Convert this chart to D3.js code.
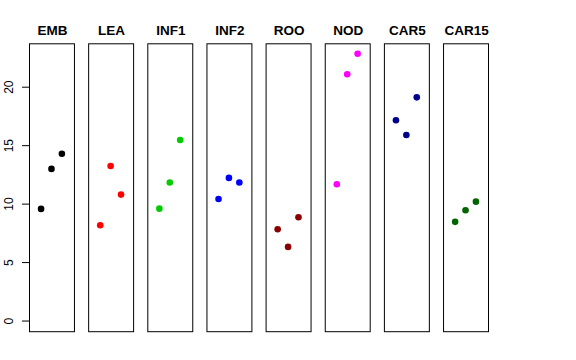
<!DOCTYPE html>
<html><head><meta charset="utf-8">
<script src="https://cdn.jsdelivr.net/npm/d3@7"></script>
<style>body{margin:0;background:#fff}svg{display:block}text{font-family:"Liberation Sans",Arial,sans-serif}</style>
</head><body><svg id="c" width="576" height="360"></svg>
<script>
const categories = ["EMB","LEA","INF1","INF2","ROO","NOD","CAR5","CAR15"];
const colors = ["#000000","#FF0000","#00CD00","#0000FF","#8B0000","#FF00FF","#00008B","#006400"];
const rep1 = [9.55, 8.15, 9.57, 10.4, 7.81, 11.66, 17.13, 8.44];
const rep2 = [12.97, 13.22, 11.8, 12.2, 6.3, 21.06, 15.87, 9.43];
const rep3 = [14.27, 10.77, 15.44, 11.8, 8.84, 22.82, 19.09, 10.17];
const yTicks = [0, 5, 10, 15, 20];

const svg = d3.select("#c");
const yMax = 22.8;
const y = d3.scaleLinear().domain([-0.04*yMax, 1.04*yMax]).range([331.2, 43.3]);
const band = d3.scaleBand().domain(categories).range([29, 488]).paddingInner(0.24).paddingOuter(0);
const xIn = d3.scaleLinear().domain([-0.16, 4.16]).range([0, band.bandwidth()]);

// y axis on first panel
const yAxis = d3.axisLeft(y).tickValues(yTicks).tickSize(7).tickSizeOuter(0).tickPadding(6);
const ga = svg.append("g").attr("transform", `translate(${band(categories[0])},0)`).call(yAxis);
ga.select(".domain").remove();
ga.selectAll(".tick line").attr("stroke", "#000");
ga.selectAll(".tick text")
  .attr("font-size", 12).attr("fill", "#000")
  .attr("text-anchor", "middle").attr("dy", null).attr("x", null)
  .attr("transform", "translate(-20,0) rotate(-90)")
  .attr("y", 0).attr("dy", "0.35em");

categories.forEach((cat, i) => {
  const g = svg.append("g").attr("transform", `translate(${band(cat)},0)`);
  g.append("rect")
    .attr("x", 0.5).attr("y", y.range()[1] + 0.5)
    .attr("width", band.bandwidth()).attr("height", y.range()[0] - y.range()[1])
    .attr("fill", "none").attr("stroke", "#000").attr("stroke-width", 1);
  g.append("text")
    .attr("x", band.bandwidth()/2 + 1).attr("y", 34.5)
    .attr("text-anchor", "middle").attr("font-weight", "bold").attr("font-size", 13.5)
    .text(cat);
  const vals = [rep1[i], rep2[i], rep3[i]];
  g.selectAll("circle").data(vals).join("circle")
    .attr("cx", (d, j) => xIn(j + 1))
    .attr("cy", d => y(d))
    .attr("r", 3.3)
    .attr("fill", colors[i]);
});
</script></body></html>
